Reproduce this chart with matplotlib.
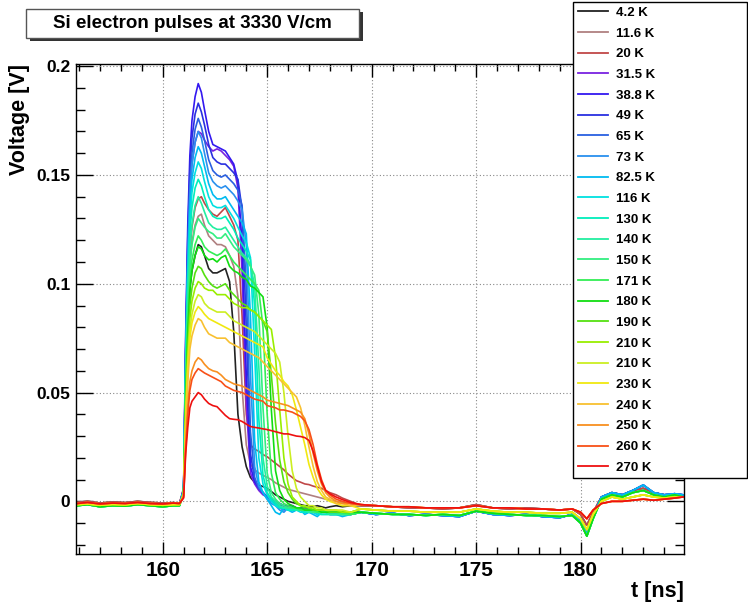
#!/usr/bin/env python3
"""
Si electron current pulses at 3330 V/cm for the temperature scan.

Draws one trace per temperature in a ROOT-canvas look (boxed title,
legend pinned to the top right, inward ticks on all four sides) and
writes out.png.
"""

import matplotlib
matplotlib.use('Agg')
import matplotlib.pyplot as plt
from matplotlib.patches import Rectangle
from matplotlib.ticker import MultipleLocator, FormatStrFormatter

# ---------------------------------------------------------------- time axes [ns]
t_pre = [155.9, 156.4, 157.0, 157.6, 158.2, 158.8, 159.4, 160.0, 160.5]
t_pulse = [160.8, 161.0, 161.1, 161.2, 161.3, 161.4, 161.55, 161.7, 161.85,
           162.0, 162.2, 162.4, 162.6, 162.8, 163.0, 163.2, 163.4, 163.6, 163.8, 164.0,
           164.2, 164.4, 164.6, 164.8, 165.0, 165.2, 165.4, 165.6, 165.8, 166.0,
           166.2, 166.4, 166.6, 166.8, 167.0, 167.2, 167.4, 167.6, 167.8, 168.0,
           168.3, 168.6, 169.0]
t_tail = [169.5, 170.2, 171.0, 171.8, 172.6, 173.4, 174.2, 175.0, 175.8, 176.6,
          177.4, 178.2, 179.0, 179.6, 180.0, 180.3, 180.6, 181.0, 181.5, 182.0,
          182.5, 183.0, 183.5, 184.0, 184.5, 184.9]

# ---------------------------------------------------------------- temperatures
temps = ['4.2 K', '11.6 K', '20 K', '31.5 K', '38.8 K', '49 K', '65 K', '73 K',
         '82.5 K', '116 K', '130 K', '140 K', '150 K', '171 K', '180 K', '190 K',
         '210 K', '210 K', '230 K', '240 K', '250 K', '260 K', '270 K']
colors = ['#222222', '#b08080', '#c04848', '#7a22e0', '#3318f0', '#2a30e0',
          '#2a60e0', '#2a90ee', '#00bbf0', '#00e0e0', '#00eebb', '#22eea0',
          '#33ee80', '#33ee55', '#11dd11', '#55e011', '#99ee00', '#ccee22',
          '#f0e810', '#f8c030', '#f89020', '#f85018', '#ee1010']
# which baseline set each trace shares outside the pulse
groups = ['low', 'low', 'low', 'cold', 'cold', 'cold', 'cold', 'cold',
          'cold', 'mid', 'mid', 'mid', 'mid', 'mid', 'mid', 'midwarm',
          'midwarm', 'midwarm', 'midwarm', 'warm', 'warm', 'warm', 'warm']

# ---------------------------------------------------------------- baselines [V]
pre_low = [-0.0005, 0.0000, -0.0008, -0.0003, -0.0006, 0.0000, -0.0005, -0.0008, -0.0006]
pre_cold = [-0.0015, -0.0010, -0.0020, -0.0012, -0.0018, -0.0010, -0.0015, -0.0020, -0.0015]
pre_mid = [-0.0020, -0.0015, -0.0025, -0.0020, -0.0022, -0.0015, -0.0020, -0.0025, -0.0020]
pre_midwarm = [-0.0015, -0.0012, -0.0018, -0.0014, -0.0016, -0.0010, -0.0015, -0.0018, -0.0015]
pre_warm = [-0.0010, -0.0005, -0.0012, -0.0008, -0.0010, -0.0005, -0.0010, -0.0012, -0.0008]

tail_low = [-0.0020, -0.0020, -0.0025, -0.0030, -0.0030, -0.0035, -0.0030, -0.0015, -0.0030,
            -0.0035, -0.0030, -0.0035, -0.0040, -0.0035, -0.0060, -0.0110, -0.0050, 0.0020,
            0.0040, 0.0030, 0.0050, 0.0060, 0.0040, 0.0030, 0.0030, 0.0020]
tail_cold = [-0.0050, -0.0060, -0.0055, -0.0065, -0.0060, -0.0065, -0.0070, -0.0045, -0.0060,
             -0.0065, -0.0060, -0.0070, -0.0075, -0.0060, -0.0090, -0.0150, -0.0070, 0.0020,
             0.0040, 0.0030, 0.0050, 0.0075, 0.0040, 0.0030, 0.0035, 0.0030]
tail_mid = [-0.0050, -0.0055, -0.0060, -0.0060, -0.0065, -0.0060, -0.0065, -0.0045, -0.0055,
            -0.0060, -0.0065, -0.0065, -0.0070, -0.0065, -0.0100, -0.0160, -0.0080, 0.0010,
            0.0030, 0.0020, 0.0040, 0.0050, 0.0030, 0.0020, 0.0030, 0.0020]
tail_midwarm = [-0.0035, -0.0040, -0.0045, -0.0045, -0.0050, -0.0050, -0.0050, -0.0035, -0.0045,
                -0.0050, -0.0050, -0.0055, -0.0055, -0.0050, -0.0080, -0.0130, -0.0060, 0.0000,
                0.0020, 0.0010, 0.0020, 0.0030, 0.0020, 0.0015, 0.0020, 0.0020]
tail_warm = [-0.0015, -0.0020, -0.0025, -0.0025, -0.0030, -0.0030, -0.0030, -0.0020, -0.0030,
             -0.0030, -0.0035, -0.0035, -0.0040, -0.0035, -0.0050, -0.0080, -0.0040, -0.0010,
             0.0000, 0.0000, 0.0005, 0.0010, 0.0005, 0.0010, 0.0015, 0.0020]

# ---------------------------------------------------------------- pulses [V] on t_pulse
v_4p2K = [-0.0008, 0.004, 0.047, 0.078, 0.098, 0.106, 0.113, 0.118, 0.117,
          0.113, 0.107, 0.105, 0.105, 0.106, 0.107, 0.101, 0.078, 0.040, 0.025, 0.016,
          0.011, 0.0087, 0.0075, 0.0068, 0.006, 0.0045, 0.003, 0.002, 0.001, 0.000,
          -0.0005, -0.001, -0.0015, -0.002, -0.002, -0.0025, -0.002, -0.0025, -0.003, -0.0025,
          -0.002, -0.0025, -0.002]
v_11p6K = [-0.0008, 0.005, 0.053, 0.087, 0.110, 0.119, 0.127, 0.131, 0.132,
           0.127, 0.122, 0.120, 0.118, 0.118, 0.117, 0.113, 0.108, 0.094, 0.052, 0.026,
           0.017, 0.0145, 0.013, 0.012, 0.011, 0.010, 0.0085, 0.0075, 0.0065, 0.0055,
           0.005, 0.0045, 0.004, 0.0035, 0.003, 0.0025, 0.002, 0.0015, 0.001, 0.0005,
           0.000, -0.0005, -0.001]
v_20K = [-0.001, 0.006, 0.056, 0.092, 0.116, 0.126, 0.135, 0.139, 0.140,
         0.137, 0.134, 0.132, 0.131, 0.133, 0.135, 0.131, 0.127, 0.120, 0.085, 0.040,
         0.026, 0.024, 0.023, 0.0215, 0.0205, 0.019, 0.0175, 0.016, 0.0145, 0.0125,
         0.011, 0.0095, 0.0088, 0.008, 0.0077, 0.007, 0.0065, 0.006, 0.005, 0.004,
         0.003, 0.0015, 0.000]
v_31p5K = [-0.0015, 0.005, 0.068, 0.112, 0.141, 0.155, 0.165, 0.170, 0.169,
           0.166, 0.163, 0.161, 0.162, 0.161, 0.159, 0.157, 0.154, 0.144, 0.105, 0.045,
           0.013, 0.008, 0.005, 0.003, 0.002, 0.001, 0.000, -0.001, -0.002, -0.002,
           -0.002, -0.003, -0.003, -0.003, -0.004, -0.004, -0.004, -0.004, -0.004, -0.004,
           -0.005, -0.005, -0.005]
v_38p8K = [-0.0015, 0.006, 0.077, 0.127, 0.159, 0.175, 0.186, 0.192, 0.188,
           0.180, 0.170, 0.164, 0.163, 0.162, 0.161, 0.158, 0.155, 0.147, 0.118, 0.058,
           0.016, 0.009, 0.006, 0.004, 0.002, 0.001, 0.000, -0.001, -0.002, -0.002,
           -0.002, -0.003, -0.003, -0.003, -0.003, -0.004, -0.004, -0.004, -0.004, -0.004,
           -0.005, -0.005, -0.005]
v_49K = [-0.0015, 0.005, 0.073, 0.121, 0.152, 0.167, 0.178, 0.183, 0.179,
         0.173, 0.164, 0.158, 0.156, 0.155, 0.155, 0.153, 0.151, 0.148, 0.134, 0.080,
         0.022, 0.010, 0.006, 0.004, 0.002, 0.001, -0.001, -0.002, -0.002, -0.003,
         -0.003, -0.003, -0.004, -0.004, -0.004, -0.004, -0.005, -0.005, -0.005, -0.005,
         -0.005, -0.005, -0.006]
v_65K = [-0.0015, 0.005, 0.070, 0.116, 0.146, 0.160, 0.171, 0.176, 0.172,
         0.166, 0.157, 0.152, 0.150, 0.149, 0.150, 0.148, 0.146, 0.143, 0.136, 0.098,
         0.032, 0.011, 0.006, 0.004, 0.002, 0.000, -0.001, -0.003, -0.004, -0.003,
         -0.003, -0.004, -0.004, -0.004, -0.005, -0.005, -0.005, -0.005, -0.005, -0.006,
         -0.006, -0.006, -0.006]
v_73K = [-0.002, 0.005, 0.068, 0.112, 0.141, 0.155, 0.165, 0.170, 0.167,
         0.160, 0.151, 0.147, 0.145, 0.144, 0.145, 0.143, 0.141, 0.138, 0.134, 0.118,
         0.058, 0.016, 0.007, 0.004, 0.001, -0.001, -0.002, -0.004, -0.005, -0.003,
         -0.003, -0.004, -0.004, -0.005, -0.005, -0.005, -0.006, -0.005, -0.005, -0.006,
         -0.006, -0.006, -0.006]
v_82p5K = [-0.002, 0.005, 0.065, 0.108, 0.135, 0.148, 0.158, 0.163, 0.160,
           0.154, 0.146, 0.141, 0.139, 0.139, 0.140, 0.137, 0.134, 0.131, 0.128, 0.123,
           0.085, 0.028, 0.009, 0.004, 0.001, -0.002, -0.005, -0.006, -0.003, -0.004,
           -0.005, -0.004, -0.004, -0.006, -0.005, -0.006, -0.007, -0.005, -0.005, -0.006,
           -0.006, -0.007, -0.006]
v_116K = [-0.002, 0.005, 0.062, 0.103, 0.129, 0.142, 0.151, 0.156, 0.153,
          0.147, 0.140, 0.136, 0.135, 0.135, 0.136, 0.133, 0.130, 0.126, 0.122, 0.119,
          0.112, 0.068, 0.020, 0.008, 0.003, 0.000, -0.002, -0.003, -0.003, -0.004,
          -0.004, -0.004, -0.005, -0.005, -0.005, -0.005, -0.006, -0.006, -0.006, -0.006,
          -0.006, -0.006, -0.006]
v_130K = [-0.002, 0.004, 0.059, 0.098, 0.123, 0.135, 0.144, 0.148, 0.145,
          0.140, 0.134, 0.131, 0.130, 0.130, 0.131, 0.128, 0.125, 0.121, 0.118, 0.115,
          0.111, 0.090, 0.038, 0.012, 0.004, 0.001, -0.001, -0.003, -0.003, -0.004,
          -0.004, -0.004, -0.004, -0.005, -0.005, -0.005, -0.005, -0.006, -0.006, -0.006,
          -0.006, -0.006, -0.006]
v_140K = [-0.002, 0.004, 0.056, 0.092, 0.116, 0.127, 0.136, 0.140, 0.137,
          0.133, 0.128, 0.126, 0.125, 0.125, 0.126, 0.123, 0.120, 0.117, 0.114, 0.112,
          0.109, 0.099, 0.062, 0.020, 0.007, 0.002, 0.000, -0.002, -0.003, -0.003,
          -0.003, -0.004, -0.004, -0.004, -0.005, -0.005, -0.005, -0.005, -0.005, -0.006,
          -0.006, -0.006, -0.006]
v_150K = [-0.002, 0.004, 0.052, 0.086, 0.108, 0.118, 0.126, 0.130, 0.128,
          0.126, 0.124, 0.123, 0.121, 0.121, 0.123, 0.120, 0.117, 0.115, 0.113, 0.111,
          0.108, 0.104, 0.086, 0.043, 0.013, 0.004, 0.001, -0.001, -0.002, -0.003,
          -0.003, -0.003, -0.004, -0.004, -0.004, -0.005, -0.005, -0.005, -0.005, -0.005,
          -0.005, -0.006, -0.006]
v_171K = [-0.002, 0.004, 0.049, 0.081, 0.101, 0.111, 0.118, 0.122, 0.120,
          0.117, 0.115, 0.114, 0.113, 0.114, 0.116, 0.113, 0.110, 0.108, 0.106, 0.104,
          0.102, 0.100, 0.097, 0.080, 0.040, 0.013, 0.004, 0.001, -0.001, -0.002,
          -0.003, -0.003, -0.004, -0.004, -0.004, -0.004, -0.005, -0.005, -0.005, -0.005,
          -0.005, -0.005, -0.006]
v_180K = [-0.002, 0.003, 0.047, 0.077, 0.097, 0.106, 0.113, 0.117, 0.116,
          0.113, 0.111, 0.1115, 0.110, 0.112, 0.113, 0.108, 0.106, 0.105, 0.103, 0.102,
          0.099, 0.098, 0.096, 0.094, 0.080, 0.042, 0.014, 0.005, 0.001, -0.001,
          -0.002, -0.003, -0.003, -0.004, -0.004, -0.004, -0.004, -0.005, -0.005, -0.005,
          -0.005, -0.005, -0.005]
v_190K = [-0.0015, 0.003, 0.043, 0.071, 0.090, 0.098, 0.105, 0.108, 0.107,
          0.104, 0.101, 0.099, 0.098, 0.099, 0.100, 0.097, 0.095, 0.093, 0.091, 0.090,
          0.088, 0.087, 0.085, 0.083, 0.078, 0.058, 0.036, 0.019, 0.009, 0.004,
          0.001, -0.001, -0.002, -0.003, -0.003, -0.004, -0.004, -0.004, -0.004, -0.005,
          -0.005, -0.005, -0.005]
v_210Ka = [-0.0015, 0.003, 0.040, 0.067, 0.084, 0.092, 0.098, 0.101, 0.100,
           0.098, 0.097, 0.097, 0.095, 0.095, 0.095, 0.093, 0.091, 0.090, 0.089, 0.089,
           0.088, 0.087, 0.085, 0.083, 0.081, 0.079, 0.066, 0.042, 0.020, 0.008,
           0.002, 0.000, -0.002, -0.002, -0.003, -0.003, -0.004, -0.004, -0.004, -0.004,
           -0.004, -0.005, -0.005]
v_210Kb = [-0.0015, 0.003, 0.038, 0.063, 0.079, 0.086, 0.092, 0.095, 0.094,
           0.091, 0.089, 0.088, 0.087, 0.087, 0.087, 0.085, 0.083, 0.082, 0.081, 0.080,
           0.079, 0.078, 0.076, 0.074, 0.072, 0.070, 0.068, 0.064, 0.050, 0.030,
           0.014, 0.006, 0.002, 0.000, -0.002, -0.002, -0.003, -0.003, -0.004, -0.004,
           -0.004, -0.004, -0.005]
v_230K = [-0.0015, 0.003, 0.036, 0.059, 0.075, 0.082, 0.087, 0.0895, 0.088,
          0.086, 0.084, 0.083, 0.082, 0.081, 0.080, 0.079, 0.078, 0.077, 0.076, 0.075,
          0.074, 0.073, 0.072, 0.071, 0.066, 0.063, 0.060, 0.058, 0.055, 0.053,
          0.049, 0.042, 0.034, 0.026, 0.017, 0.011, 0.006, 0.003, 0.001, 0.000,
          -0.001, -0.002, -0.002]
v_240K = [-0.001, 0.003, 0.034, 0.055, 0.070, 0.076, 0.081, 0.084, 0.083,
          0.080, 0.077, 0.076, 0.075, 0.075, 0.075, 0.073, 0.072, 0.071, 0.070, 0.069,
          0.068, 0.067, 0.066, 0.064, 0.062, 0.060, 0.058, 0.056, 0.054, 0.052,
          0.050, 0.048, 0.043, 0.035, 0.025, 0.016, 0.009, 0.005, 0.002, 0.001,
          -0.001, -0.001, -0.002]
v_250K = [-0.001, 0.002, 0.026, 0.044, 0.055, 0.060, 0.064, 0.066, 0.065,
          0.063, 0.061, 0.060, 0.0595, 0.058, 0.056, 0.055, 0.054, 0.0535, 0.053, 0.052,
          0.051, 0.050, 0.049, 0.048, 0.0465, 0.046, 0.0455, 0.045, 0.0445, 0.044,
          0.043, 0.042, 0.041, 0.038, 0.031, 0.022, 0.014, 0.008, 0.004, 0.002,
          0.000, -0.001, -0.001]
v_260K = [-0.001, 0.002, 0.024, 0.040, 0.051, 0.056, 0.059, 0.061, 0.060,
          0.059, 0.058, 0.057, 0.056, 0.055, 0.053, 0.052, 0.051, 0.0505, 0.050, 0.049,
          0.048, 0.047, 0.0465, 0.046, 0.044, 0.0435, 0.043, 0.042, 0.042, 0.0415,
          0.041, 0.040, 0.039, 0.037, 0.033, 0.026, 0.017, 0.010, 0.005, 0.003,
          0.001, 0.000, -0.001]
v_270K = [-0.001, 0.0015, 0.022, 0.034, 0.043, 0.046, 0.048, 0.050, 0.049,
          0.047, 0.045, 0.044, 0.0435, 0.0415, 0.0395, 0.038, 0.0377, 0.0375, 0.0367, 0.0355,
          0.0344, 0.034, 0.0337, 0.0333, 0.033, 0.0325, 0.032, 0.0315, 0.031, 0.031,
          0.0305, 0.030, 0.0298, 0.0293, 0.028, 0.023, 0.016, 0.009, 0.005, 0.0035,
          0.002, 0.0008, -0.0005]

pulses = [v_4p2K, v_11p6K, v_20K, v_31p5K, v_38p8K, v_49K, v_65K, v_73K, v_82p5K,
          v_116K, v_130K, v_140K, v_150K, v_171K, v_180K, v_190K, v_210Ka, v_210Kb,
          v_230K, v_240K, v_250K, v_260K, v_270K]

baselines = {
    'low': (pre_low, tail_low),
    'cold': (pre_cold, tail_cold),
    'mid': (pre_mid, tail_mid),
    'midwarm': (pre_midwarm, tail_midwarm),
    'warm': (pre_warm, tail_warm),
}

FIG_W, FIG_H = 748, 607   # canvas size in pixels


def px_box(x0, y0, x1, y1):
    """Pixel box (top-left origin) -> figure-fraction [left, bottom, w, h]."""
    return [x0 / FIG_W, 1 - y1 / FIG_H, (x1 - x0) / FIG_W, (y1 - y0) / FIG_H]


def add_pave(fig, x0, y0, x1, y1, **kw):
    """Rectangle given in canvas pixels, drawn in figure coordinates."""
    l, b, w, h = px_box(x0, y0, x1, y1)
    patch = Rectangle((l, b), w, h, transform=fig.transFigure, **kw)
    fig.add_artist(patch)
    return patch


def main():
    plt.rcParams['font.family'] = ['Liberation Sans', 'DejaVu Sans']
    plt.rcParams['font.weight'] = 'bold'

    for name, v in zip(temps, pulses):
        if len(v) != len(t_pulse):
            raise ValueError(f'{name}: {len(v)} samples, expected {len(t_pulse)}')

    fig = plt.figure(figsize=(FIG_W / 100, FIG_H / 100), dpi=100)
    ax = fig.add_axes(px_box(76, 64, 684, 554))

    t_all = t_pre + t_pulse + t_tail
    for name, col, grp, v in zip(temps, colors, groups, pulses):
        pre, tail = baselines[grp]
        ax.plot(t_all, pre + v + tail, color=col, lw=1.2, label=name)

    ax.set_xlim(155.85, 184.95)
    ax.set_ylim(-0.0242, 0.201)

    ax.xaxis.set_major_locator(MultipleLocator(5))
    ax.xaxis.set_minor_locator(MultipleLocator(1))
    ax.yaxis.set_major_locator(MultipleLocator(0.05))
    ax.yaxis.set_minor_locator(MultipleLocator(0.01))
    ax.xaxis.set_major_formatter(FormatStrFormatter('%g'))
    ax.yaxis.set_major_formatter(FormatStrFormatter('%g'))

    ax.tick_params(which='both', direction='in', top=True, right=True, width=1.0)
    ax.tick_params(axis='x', which='major', length=9, labelsize=15, pad=5)
    ax.tick_params(axis='x', which='minor', length=5)
    ax.tick_params(axis='y', which='major', length=12, labelsize=12.5, pad=4)
    ax.tick_params(axis='y', which='minor', length=6.5)
    for lab in ax.get_xticklabels() + ax.get_yticklabels():
        lab.set_fontweight('bold')
    for sp in ax.spines.values():
        sp.set_linewidth(1.0)

    ax.grid(True, which='major', color='#888888', lw=0.8, ls=(0, (1, 2)))

    ax.set_xlabel('t [ns]', fontsize=15.5, fontweight='bold', loc='right')
    ax.xaxis.set_label_coords(1.0, -0.055)
    ax.set_ylabel('Voltage [V]', fontsize=15.5, fontweight='bold', loc='top')
    ax.yaxis.set_label_coords(-0.0757, 1.0)

    # legend pinned to the top-right corner of the canvas
    leg = fig.legend(loc='upper left', bbox_to_anchor=px_box(573, 2, 747, 479),
                     mode='expand', ncol=1, fancybox=False, framealpha=1.0,
                     edgecolor='black', prop=dict(weight='bold', size=9.5),
                     labelspacing=0.64, borderpad=0.35, borderaxespad=0.0,
                     handlelength=2.3, handletextpad=0.6)
    leg.get_frame().set_linewidth(1.0)
    for line in leg.get_lines():
        line.set_linewidth(1.3)

    # boxed title with drop shadow
    add_pave(fig, 30, 12, 363, 41, facecolor='#333333', edgecolor='none', zorder=5)
    add_pave(fig, 26, 9, 359, 38, facecolor='white', edgecolor='#555555',
             lw=1.0, zorder=6)
    fig.text(192.5 / FIG_W, 1 - 23.5 / FIG_H, 'Si electron pulses at 3330 V/cm',
             ha='center', va='center', fontsize=13.5, fontweight='bold', zorder=7)

    fig.savefig('out.png', dpi=100, facecolor='white')


if __name__ == '__main__':
    main()
